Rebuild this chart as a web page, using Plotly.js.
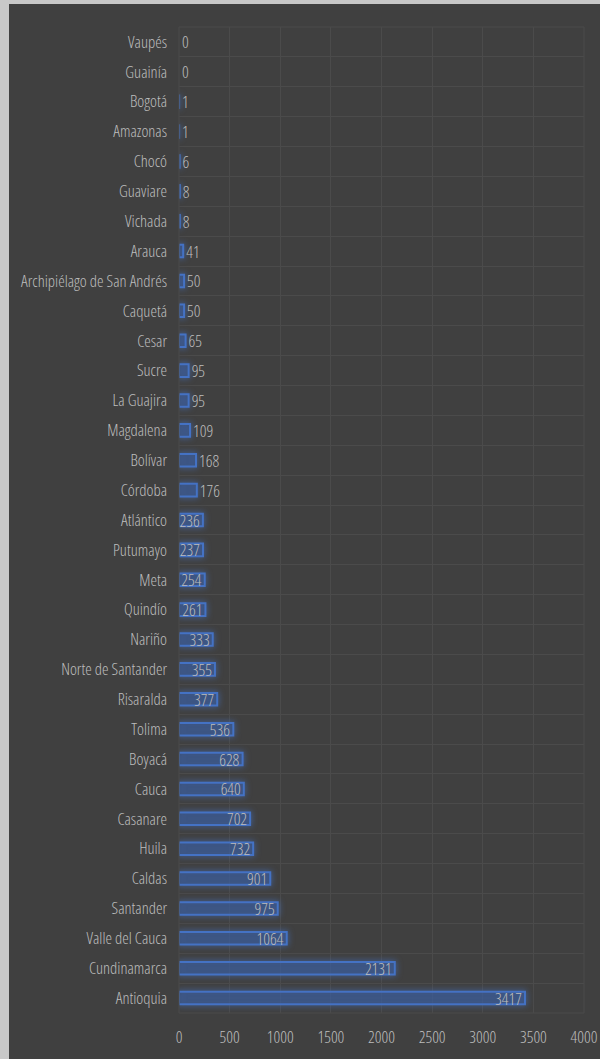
<!DOCTYPE html>
<html>
<head>
<meta charset="utf-8">
<script src="https://cdn.plot.ly/plotly-3.0.1.min.js"></script>
<style>
html, body { margin: 0; padding: 0; background: #c8c8c8; width: 600px; height: 1059px; overflow: hidden; }
#chart { position: absolute; left: 9px; top: 4px; width: 591px; height: 1055px; }
svg text { font-stretch: condensed !important; }
#chart .trace.bars .point path { filter: drop-shadow(0 0 3px rgba(68,114,196,0.95)); }
</style>
</head>
<body>
<div id="chart"></div>
<script>
const categories = ["Vaupés","Guainía","Bogotá","Amazonas","Chocó","Guaviare","Vichada","Arauca",
  "Archipiélago de San Andrés","Caquetá","Cesar","Sucre","La Guajira","Magdalena","Bolívar","Córdoba",
  "Atlántico","Putumayo","Meta","Quindío","Nariño","Norte de Santander","Risaralda","Tolima","Boyacá",
  "Cauca","Casanare","Huila","Caldas","Santander","Valle del Cauca","Cundinamarca","Antioquia"];
const values = [0,0,1,1,6,8,8,41,50,50,65,95,95,109,168,176,236,237,254,261,333,355,377,536,628,640,702,732,901,975,1064,2131,3417];
const xTicks = [0,500,1000,1500,2000,2500,3000,3500,4000];

const FONT = "'Open Sans', sans-serif";
const TXT = "#bdbdbd";
const FS = 16.5;
const W = 300;

const barTrace = {
  type: "bar",
  orientation: "h",
  y: categories,
  x: values,
  text: values.map(String),
  textposition: values.map(v => v < 200 ? "outside" : "inside"),
  insidetextanchor: "end",
  textangle: 0,
  constraintext: "none",
  cliponaxis: false,
  textfont: { family: FONT, size: FS, color: TXT, weight: W },
  insidetextfont: { family: FONT, size: FS, color: TXT, weight: W },
  outsidetextfont: { family: FONT, size: FS, color: TXT, weight: W },
  marker: {
    color: "rgba(55,85,140,0.45)",
    line: { color: "#4472c4", width: values.map(v => v === 0 ? 0 : 2) }
  },
  hoverinfo: "x+y"
};

const layout = {
  width: 591, height: 1055,
  margin: { l: 170, r: 16, t: 23, b: 46 },
  paper_bgcolor: "#404040",
  plot_bgcolor: "#404040",
  bargap: 0.58,
  showlegend: false,
  font: { family: FONT, size: FS, color: TXT, weight: W },
  xaxis: {
    range: [0, 4000],
    tickvals: xTicks,
    ticktext: xTicks.map(String),
    showgrid: true, gridcolor: "#4b4b4b", gridwidth: 1,
    zeroline: false, showline: false,
    ticks: "",
    ticklabelstandoff: 12,
    ticklabeloverflow: "allow",
    tickfont: { family: FONT, size: FS, color: TXT, weight: W },
    fixedrange: true
  },
  yaxis: {
    type: "category",
    autorange: "reversed",
    tickson: "boundaries",
    showgrid: true, gridcolor: "#4b4b4b", gridwidth: 1,
    zeroline: false, showline: false,
    ticks: "",
    ticklabelstandoff: 11,
    tickfont: { family: FONT, size: FS, color: TXT, weight: W },
    fixedrange: true
  },
  shapes: [
    { type: "rect", xref: "paper", yref: "paper", x0: 0, x1: 1, y0: 0, y1: 1,
      line: { color: "#4b4b4b", width: 1 }, fillcolor: "rgba(0,0,0,0)" }
  ]
};

Plotly.newPlot("chart", [barTrace], layout, { displayModeBar: false, staticPlot: true });
</script>
</body>
</html>
